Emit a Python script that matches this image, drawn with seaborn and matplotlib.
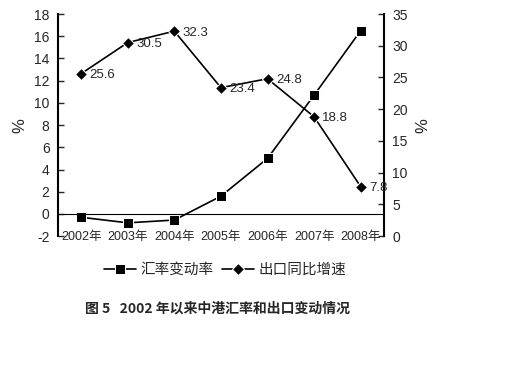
import numpy as np
import pandas as pd
import matplotlib
matplotlib.use('Agg')
import matplotlib.pyplot as plt
import seaborn as sns

sns.set_style('white')
plt.rcParams['font.family'] = ['Liberation Sans', 'Noto Sans CJK SC', 'DejaVu Sans']
plt.rcParams['axes.unicode_minus'] = False

years = ['2002年', '2003年', '2004年', '2005年', '2006年', '2007年', '2008年']
fx_change = [-0.3, -0.8, -0.55, 1.6, 5.0, 10.7, 16.5]      # 汇率变动率 (左轴)
export_growth = [25.6, 30.5, 32.3, 23.4, 24.8, 18.8, 7.8]   # 出口同比增速 (右轴)

df = pd.DataFrame({'pos': np.arange(len(years)), 'year': years,
                   'fx': fx_change, 'export': export_growth})

fig = plt.figure(figsize=(5.12, 3.84), dpi=100)
ax = fig.add_axes([0.113, 0.385, 0.637, 0.5785])
ax2 = ax.twinx()

sns.lineplot(data=df, x='pos', y='fx', ax=ax, color='black', marker='s',
             markersize=7, linewidth=1.2, label='汇率变动率', legend=False)
sns.lineplot(data=df, x='pos', y='export', ax=ax2, color='black', marker='D',
             markersize=6, linewidth=1.2, label='出口同比增速', legend=False)

for x, v in zip(df['pos'], df['export']):
    ax2.annotate(f'{v}', (x, v), xytext=(6, -1), textcoords='offset points',
                 ha='left', va='center', fontsize=9.5)

ax.set_xlim(-0.5, len(years) - 0.5)
ax.set_ylim(-2, 18)
ax.set_yticks(np.arange(-2, 19, 2))
ax2.set_ylim(0, 35)
ax2.set_yticks(np.arange(0, 36, 5))

# x axis drawn at y = 0, labels at bottom
ax.spines['bottom'].set_position(('data', 0))
ax.set_xticks(np.arange(-0.5, len(years), 1))
ax.set_xticklabels([])
ax.set_xticks(df['pos'], minor=True)
ax.set_xticklabels(years, minor=True, fontsize=9)
ax.tick_params(axis='x', which='major', direction='in', length=4, width=1, color='black')
ax.tick_params(axis='x', which='minor', length=0, pad=12)
ax.tick_params(axis='y', direction='in', length=4, width=1, labelsize=10, pad=6)
ax2.tick_params(axis='y', direction='in', length=4, width=1, labelsize=10, pad=6)

for a in (ax, ax2):
    a.spines['top'].set_visible(False)
    for s in a.spines.values():
        s.set_color('black')
ax.spines['right'].set_visible(False)
ax.spines['left'].set_linewidth(1.5)
ax.spines['bottom'].set_linewidth(0.8)
ax2.spines['bottom'].set_visible(False)
ax2.spines['left'].set_visible(False)
ax2.spines['right'].set_linewidth(1.5)

ax.set_xlabel('')
ax.set_ylabel('%', fontsize=12, labelpad=5)
ax2.set_ylabel('%', fontsize=12, labelpad=5)

h1, l1 = ax.get_legend_handles_labels()
h2, l2 = ax2.get_legend_handles_labels()
fig.legend(h1 + h2, l1 + l2, loc='center', bbox_to_anchor=(0.44, 0.297), ncol=2,
           frameon=False, fontsize=10.5, handlelength=2.2, columnspacing=0.6,
           handletextpad=0.3)

fig.text(0.425, 0.197, '图 5   2002 年以来中港汇率和出口变动情况', ha='center', va='center',
         fontsize=10, fontweight='bold', family=['Noto Sans CJK SC', 'DejaVu Sans'])

fig.savefig('out.png', dpi=100)
